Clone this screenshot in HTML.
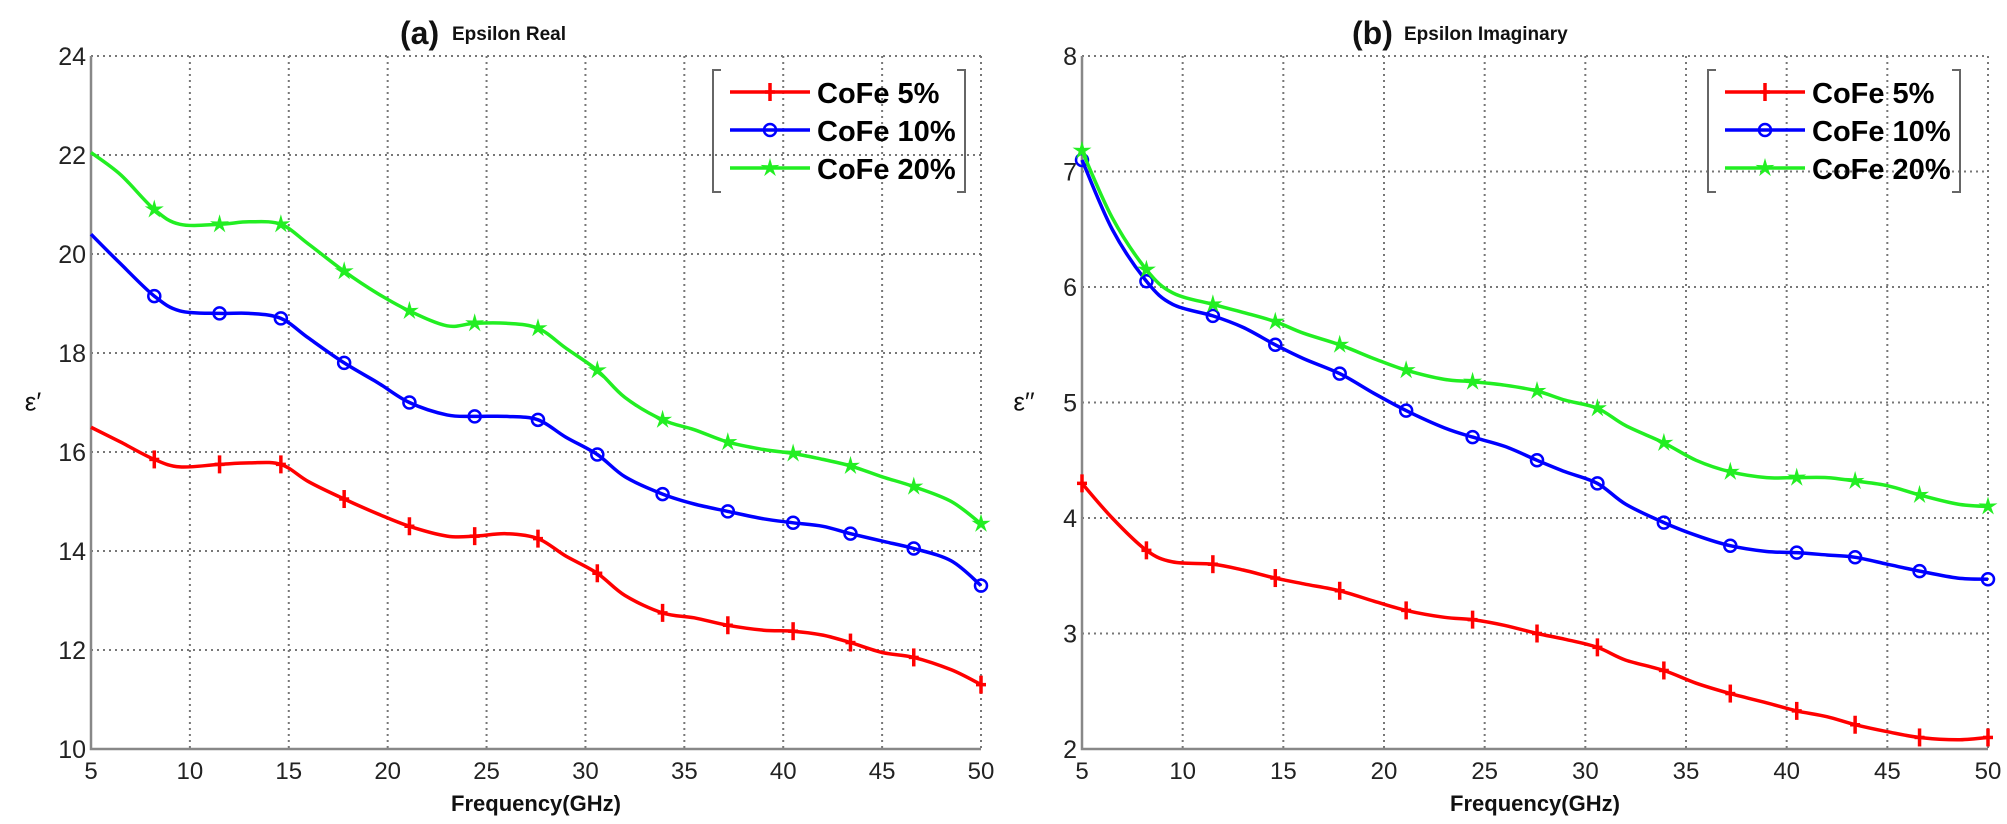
<!DOCTYPE html>
<html><head><meta charset="utf-8">
<style>
html,body{margin:0;padding:0;background:#fff;}
svg{display:block;font-family:"Liberation Sans",sans-serif;}
</style></head>
<body>
<svg id="s" width="2007" height="824" xmlns="http://www.w3.org/2000/svg"></svg>
<script>
const S=document.getElementById('s');let h='';
const mk=[8.2,11.5,14.6,17.8,21.1,24.4,27.6,30.6,33.9,37.2,40.5,43.4,46.6,50];
const fs=[5,6.5,8.2,9.5,11.5,13,14.6,16,17.8,19.5,21.1,23,24.4,26,27.6,29,30.6,32,33.9,35.5,37.2,39,40.5,42,43.4,45,46.6,48.5,50];
const cols=['#f00','#00f','#2e2'];
function smooth(p){let d=`M${p[0][0]},${p[0][1]}`;for(let i=0;i<p.length-1;i++){const a=p[i-1]||p[i],b=p[i],c=p[i+1],e=p[i+2]||c;
 const c1=[b[0]+(c[0]-a[0])/6,b[1]+(c[1]-a[1])/6],c2=[c[0]-(e[0]-b[0])/6,c[1]-(e[1]-b[1])/6];
 d+=` C${c1[0].toFixed(1)},${c1[1].toFixed(1)} ${c2[0].toFixed(1)},${c2[1].toFixed(1)} ${c[0].toFixed(1)},${c[1].toFixed(1)}`;}return d;}
function panel(x0,x1,y0,y1,ymin,ymax,ystep,data,title1,title2,tx,ylab,startMk){
 const X=f=>x0+(f-5)*(x1-x0)/45, Y=v=>y1-(v-ymin)*(y1-y0)/(ymax-ymin);
 for(let f=10;f<=50;f+=5)h+=`<line x1="${X(f)}" y1="${y0}" x2="${X(f)}" y2="${y1}" stroke="#777" stroke-width="2" stroke-dasharray="2,4"/>`;
 for(let v=ymin+ystep;v<=ymax+1e-9;v+=ystep)h+=`<line x1="${x0}" y1="${Y(v)}" x2="${x1}" y2="${Y(v)}" stroke="#777" stroke-width="2" stroke-dasharray="2,4"/>`;
 h+=`<polyline points="${x0},${y0} ${x0},${y1} ${x1},${y1}" fill="none" stroke="#888" stroke-width="2.5"/>`;
 for(let f=5;f<=50;f+=5)h+=`<text x="${X(f)}" y="${y1+30}" font-size="24" text-anchor="middle" fill="#222">${f}</text>`;
 for(let v=ymin;v<=ymax+1e-9;v+=ystep)h+=`<text x="${x0-5}" y="${Y(v)+9}" font-size="25" text-anchor="end" fill="#222">${v}</text>`;
 h+=`<text x="${(x0+x1)/2}" y="${y1+62}" font-size="22" font-weight="bold" text-anchor="middle" fill="#111">Frequency(GHz)</text>`;
 h+=`<text x="${x0-58}" y="${(y0+y1)/2+8}" font-size="26" text-anchor="middle" fill="#111">${ylab}</text>`;
 h+=`<text x="${tx}" y="44" font-size="32" font-weight="bold" fill="#111">${title1}</text>`;
 h+=`<text x="${tx+52}" y="40" font-size="19" font-weight="bold" fill="#111">${title2}</text>`;
 data.forEach((d,i)=>{
  const pts=fs.map((f,k)=>[X(f),Y(d[k])]);
  h+=`<path d="${smooth(pts)}" fill="none" stroke="${cols[i]}" stroke-width="3.5" stroke-linejoin="round"/>`;
  const ms=startMk?[5].concat(mk):mk;
  ms.forEach(f=>{const k=fs.indexOf(f);const [x,y]=pts[k];h+=marker(i,x,y,cols[i]);});
 });
}
function marker(i,x,y,c){
 if(i==0)return `<line x1="${x}" y1="${y-9}" x2="${x}" y2="${y+9}" stroke="${c}" stroke-width="3.5"/><line x1="${x-5}" y1="${y}" x2="${x+5}" y2="${y}" stroke="${c}" stroke-width="3.5"/>`;
 if(i==1)return `<circle cx="${x}" cy="${y}" r="6" fill="none" stroke="${c}" stroke-width="2.5"/>`;
 let p='';for(let k=0;k<10;k++){const r=k%2?3.5:10,a=-Math.PI/2+k*Math.PI/5;p+=(x+r*Math.cos(a)).toFixed(1)+','+(y+r*Math.sin(a)).toFixed(1)+' ';}
 return `<polygon points="${p}" fill="${c}"/>`;
}
function legend(x,y){
 h+=`<polyline points="${x+8},${y} ${x},${y} ${x},${y+122} ${x+8},${y+122}" fill="none" stroke="#666" stroke-width="2"/>`;
 h+=`<polyline points="${x+244},${y} ${x+252},${y} ${x+252},${y+122} ${x+244},${y+122}" fill="none" stroke="#666" stroke-width="2"/>`;
 const t=['CoFe 5%','CoFe 10%','CoFe 20%'];
 for(let i=0;i<3;i++){const yy=y+22+i*38;
  h+=`<line x1="${x+17}" y1="${yy}" x2="${x+97}" y2="${yy}" stroke="${cols[i]}" stroke-width="3.5"/>`+marker(i,x+57,yy,cols[i]);
  h+=`<text x="${x+104}" y="${yy+11}" font-size="29" font-weight="bold" fill="#000">${t[i]}</text>`;}
}
panel(91,981,56,749,10,24,2,[
[16.5,16.2,15.85,15.7,15.75,15.78,15.75,15.4,15.05,14.75,14.5,14.3,14.3,14.35,14.25,13.9,13.55,13.1,12.75,12.65,12.5,12.4,12.38,12.3,12.15,11.95,11.85,11.6,11.3],
[20.4,19.8,19.15,18.85,18.8,18.8,18.7,18.3,17.8,17.4,17.0,16.75,16.72,16.72,16.65,16.3,15.95,15.5,15.15,14.95,14.8,14.65,14.57,14.5,14.35,14.2,14.05,13.8,13.3],
[22.05,21.6,20.9,20.6,20.6,20.65,20.6,20.2,19.65,19.2,18.85,18.55,18.6,18.6,18.5,18.1,17.65,17.1,16.65,16.45,16.2,16.05,15.97,15.85,15.72,15.5,15.3,15.0,14.55]
],'(a)','Epsilon Real',400,'ε′',false);
panel(1082,1988,56,749,2,8,1,[
[4.3,4.0,3.72,3.62,3.6,3.55,3.48,3.43,3.37,3.28,3.2,3.14,3.12,3.07,3.0,2.95,2.88,2.77,2.68,2.57,2.48,2.4,2.33,2.28,2.21,2.15,2.1,2.08,2.1],
[7.1,6.5,6.05,5.85,5.75,5.65,5.5,5.38,5.25,5.08,4.93,4.78,4.7,4.62,4.5,4.4,4.3,4.12,3.96,3.85,3.76,3.71,3.7,3.68,3.66,3.6,3.54,3.48,3.47],
[7.18,6.6,6.15,5.95,5.85,5.78,5.7,5.6,5.5,5.38,5.28,5.2,5.18,5.15,5.1,5.02,4.95,4.8,4.65,4.5,4.4,4.35,4.35,4.35,4.32,4.28,4.2,4.12,4.1]
],'(b)','Epsilon Imaginary',1352,'ε′′',true);
legend(713,70);legend(1708,70);
S.innerHTML=h;
</script>
</body></html>
